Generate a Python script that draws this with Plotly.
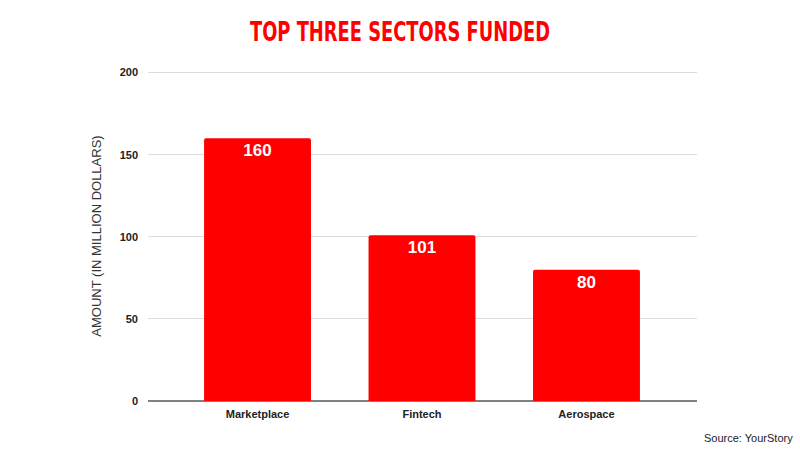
import plotly.graph_objects as go

sectors = ["Marketplace", "Fintech", "Aerospace"]
amounts = [160, 101, 80]
y_ticks = [0, 50, 100, 150, 200]

red = "#ff0000"
label_font = "Arial, Liberation Sans, sans-serif"

fig = go.Figure()
fig.add_trace(go.Bar(
    x=list(range(len(sectors))),
    y=amounts,
    width=0.65,
    marker=dict(color=red, line=dict(width=0)),
    text=[str(v) for v in amounts],
    textposition="inside",
    insidetextanchor="end",
    textfont=dict(family=label_font, size=17, color="white", weight="bold"),
    hoverinfo="skip",
))

fig.update_layout(
    width=800, height=450,
    margin=dict(l=148, r=103, t=71, b=49),
    paper_bgcolor="white",
    plot_bgcolor="white",
    showlegend=False,
    barcornerradius=2,
    title=dict(
        text="TOP THREE SECTORS FUNDED",
        x=0.5, xanchor="center",
        y=0.93, yanchor="middle",
        font=dict(family="DejaVu Sans", size=27, color=red, weight="bold"),
    ),
    xaxis=dict(
        range=[-0.666, 2.672],
        tickmode="array",
        tickvals=list(range(len(sectors))),
        ticktext=sectors,
        showgrid=False,
        zeroline=False,
        showline=False,
        ticks="",
        ticklabelstandoff=5,
        tickfont=dict(family=label_font, size=11, color="#222222", weight="bold"),
    ),
    yaxis=dict(
        range=[0, 201],
        tickvals=y_ticks,
        showgrid=True,
        gridcolor="#dcdcdc",
        gridwidth=1,
        zeroline=True,
        zerolinecolor="#808080",
        zerolinewidth=1.5,
        ticks="",
        ticklabelstandoff=9,
        tickfont=dict(family=label_font, size=11, color="#222222", weight="bold"),
        title=dict(
            text="AMOUNT (IN MILLION DOLLARS)",
            standoff=15,
            font=dict(family=label_font, size=13, color="#333333"),
        ),
    ),
    annotations=[dict(
        text="Source: YourStory",
        xref="paper", yref="paper",
        x=1.0, y=0, xanchor="right", yanchor="middle",
        xshift=98, yshift=-37,
        showarrow=False,
        font=dict(family=label_font, size=11, color="#222222"),
    )],
)

# no web fonts here, so squeeze the title into the narrow width of the original headline font
post = """
document.body.style.margin = '0';
document.querySelectorAll('.gtitle').forEach(function (t) {
  t.setAttribute('textLength', '300');
  t.setAttribute('lengthAdjust', 'spacingAndGlyphs');
});
"""
fig.write_html("out.html", config={"displayModeBar": False}, post_script=post)
